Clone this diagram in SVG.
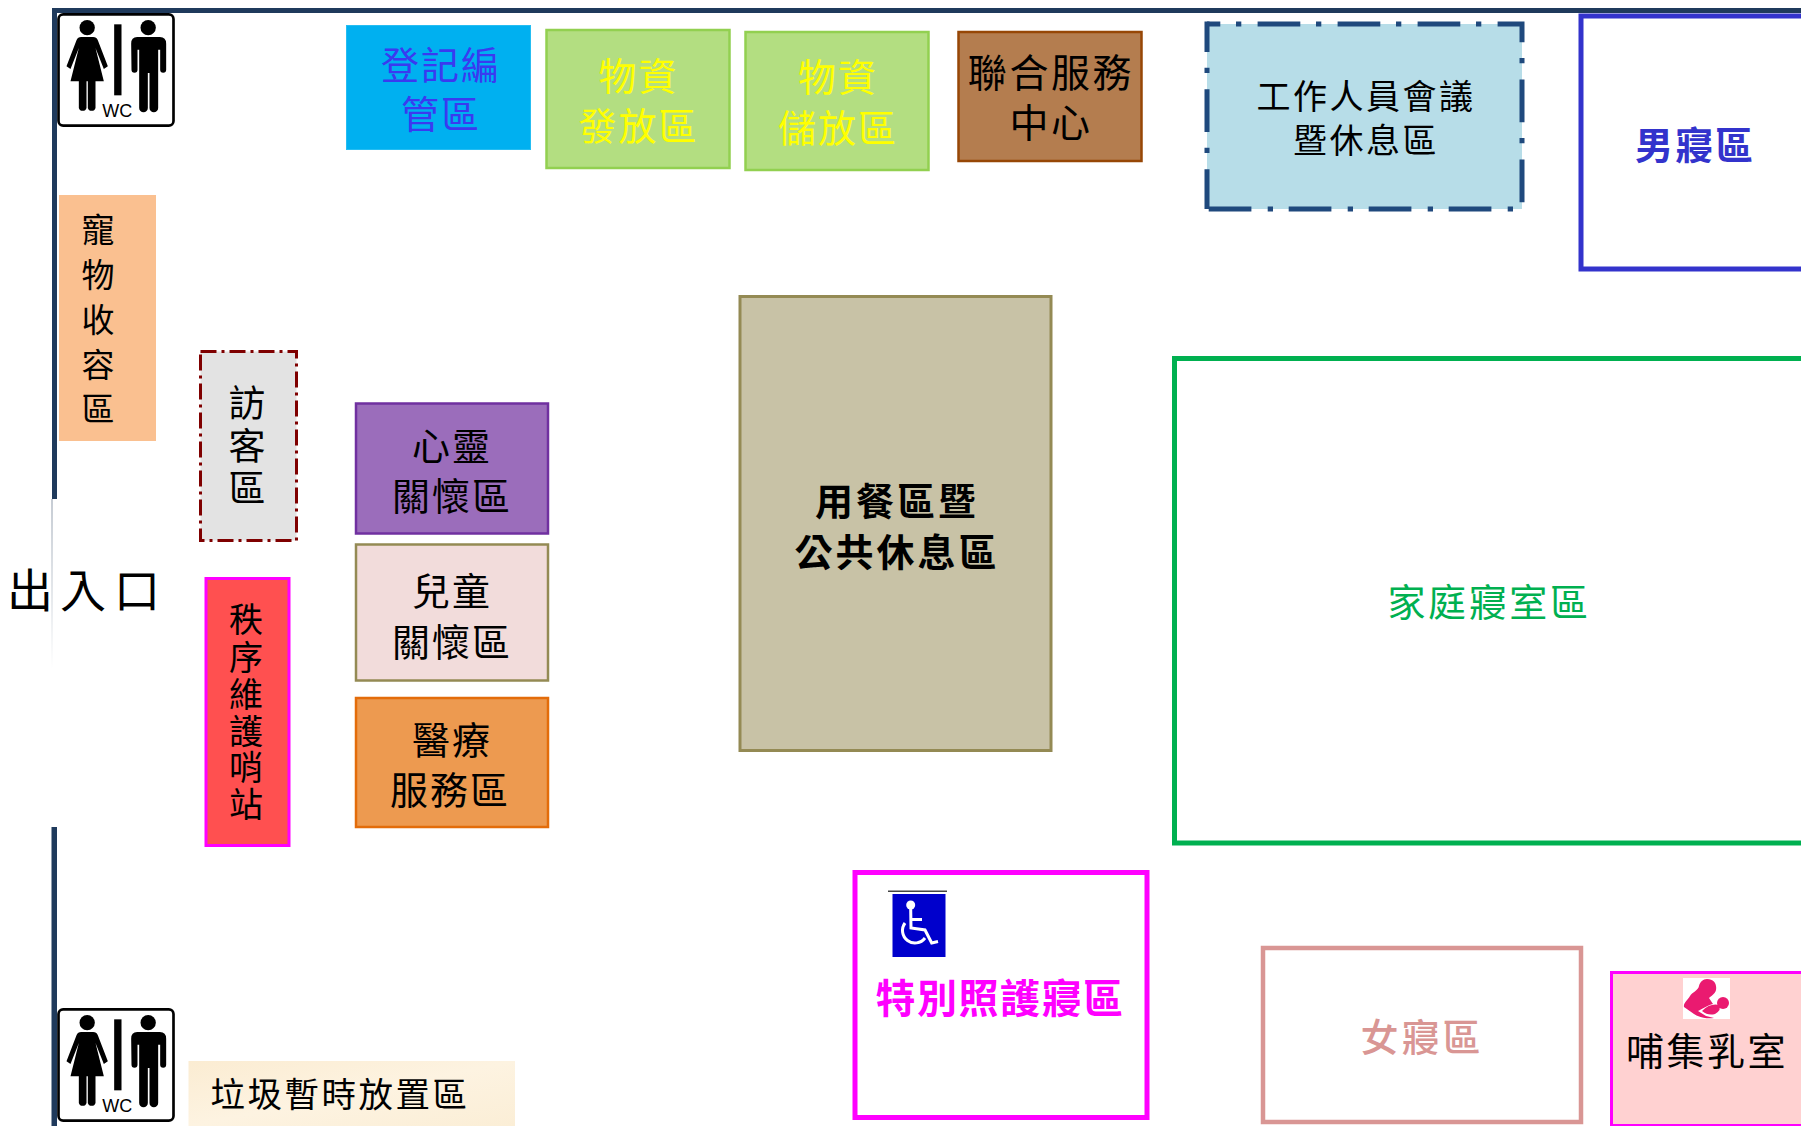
<svg xmlns="http://www.w3.org/2000/svg" width="1801" height="1126" viewBox="0 0 1801 1126">
<style>
text{font-family:"Noto Sans CJK TC","Noto Sans CJK SC",sans-serif;text-anchor:middle;fill:#000}
.s36{font-size:38px;letter-spacing:2px}
.wall{fill:#1f3a5c}
.staffline{fill:none;stroke:#1f497d;stroke-width:5;stroke-dasharray:42.7 15.7 5.3 16.3}
</style>
<defs>
<linearGradient id="paper" x1="0" y1="0" x2="1" y2="1"><stop offset="0" stop-color="#fbecd2"/><stop offset=".5" stop-color="#fdf3e1"/><stop offset="1" stop-color="#fbeed6"/></linearGradient>
<linearGradient id="doorfade" x1="0" y1="0" x2="0" y2="1"><stop offset="0" stop-color="#8d99a9"/><stop offset=".5" stop-color="#c4cbd3"/><stop offset="1" stop-color="#ffffff"/></linearGradient>
<symbol id="wc" viewBox="0 0 353 342" width="118" height="114" overflow="visible">
<rect x="4" y="4" width="345" height="334" rx="14" fill="#fff" stroke="#000" stroke-width="8"/>
<circle cx="90" cy="44" r="23"/>
<path d="M72 72L108 72Q118 72 122 82L152 160L140 168L115 105L140 205L115 205L115 285A12 12 0 0 1 92 285L92 205L88 205L88 285A12 12 0 0 1 65 285L65 205L40 205L65 105L40 168L28 160L58 82Q62 72 72 72Z"/>
<rect x="171" y="34" width="22" height="213"/>
<circle cx="273" cy="44" r="23"/>
<path d="M240 72L308 72Q327 72 327 92L327 170A9 9 0 0 1 309 170L309 110L303 110L303 285A13 13 0 0 1 277 285L277 180L272 180L272 285A13 13 0 0 1 246 285L246 110L241 110L241 170A9 9 0 0 1 223 170L222 92Q222 72 240 72Z"/>
<text x="180" y="312" style="font-family:'Liberation Sans',sans-serif;font-size:54px">WC</text>
</symbol>
</defs>
<rect width="1801" height="1126" fill="#fff"/>
<g id="walls">
<rect class="wall" x="52" y="8" width="1749" height="5"/>
<rect class="wall" x="52" y="8" width="5" height="491"/>
<rect x="51.500" y="499" width="1" height="170" fill="url(#doorfade)"/>
<rect class="wall" x="51.500" y="827" width="5.500" height="299"/>
</g>
<g id="wc-top"><use href="#wc" x="57" y="13"/></g>
<g id="wc-bottom"><use href="#wc" x="57" y="1008"/></g>
<g id="registration"><rect x="346.500" y="25.500" width="184" height="124" fill="#00b0f0" stroke="#25bdf2"/>
<text class="s36" style="fill:#3a3af0"><tspan x="441" y="79">登記編</tspan><tspan x="441" y="128">管區</tspan></text></g>
<g id="supply-distribution"><rect x="546.500" y="30" width="183" height="138" fill="#b3de81" stroke="#92d050" stroke-width="2.500"/>
<text class="s36" style="fill:#ffff00"><tspan x="638.500" y="90">物資</tspan><tspan x="638.500" y="140">發放區</tspan></text></g>
<g id="supply-storage"><rect x="745.500" y="32" width="183" height="138" fill="#b3de81" stroke="#92d050" stroke-width="2.500"/>
<text class="s36" style="fill:#ffff00"><tspan x="838" y="91">物資</tspan><tspan x="838" y="142">儲放區</tspan></text></g>
<g id="joint-service"><rect x="958.500" y="32" width="183" height="129" fill="#b47d4f" stroke="#974706" stroke-width="2.500"/>
<text style="font-size:39px;letter-spacing:2.600px"><tspan x="1051" y="87">聯合服務</tspan><tspan x="1051" y="137">中心</tspan></text></g>
<g id="staff"><rect x="1207" y="24" width="315" height="185" fill="#b7dde8"/>
<path class="staffline" d="M1207 24H1522V209H1207" stroke-dashoffset="29.400"/>
<path class="staffline" d="M1207 21.500V209" stroke-dashoffset="12.200"/>
<text style="font-size:34px;letter-spacing:2.500px"><tspan x="1366" y="109">工作人員會議</tspan><tspan x="1366" y="153">暨休息區</tspan></text></g>
<g id="men"><rect x="1581" y="16" width="400" height="253" fill="#fff" stroke="#3333cc" stroke-width="5"/>
<text style="font-size:38px;letter-spacing:2px;font-weight:700;fill:#3333cc" x="1695" y="159">男寢區</text></g>
<g id="family"><rect x="1174.500" y="358.500" width="800" height="484.500" fill="#fff" stroke="#00b050" stroke-width="5"/>
<text style="font-size:38px;letter-spacing:2.600px;fill:#00b050" x="1489" y="616">家庭寢室區</text></g>
<g id="dining"><rect x="740" y="296.500" width="311" height="454" fill="#c8c2a6" stroke="#948a54" stroke-width="3"/>
<text style="font-size:38px;letter-spacing:3px;font-weight:700"><tspan x="897" y="515">用餐區暨</tspan><tspan x="897" y="566">公共休息區</tspan></text></g>
<g id="pet"><rect x="59" y="195" width="97" height="246" fill="#fac090"/>
<text style="font-size:33px"><tspan x="98" y="242">寵</tspan><tspan x="98" y="287">物</tspan><tspan x="98" y="332">收</tspan><tspan x="98" y="377">容</tspan><tspan x="98" y="421">區</tspan></text></g>
<g id="visitor"><rect x="200.500" y="351.500" width="96" height="189" fill="#e3e3e3" stroke="#7f0000" stroke-width="3" stroke-dasharray="16 5 3 5"/>
<text style="font-size:37px"><tspan x="247" y="417">訪</tspan><tspan x="247" y="460">客</tspan><tspan x="247" y="502">區</tspan></text></g>
<g id="order"><rect x="206" y="578.500" width="83" height="267" fill="#ff5050" stroke="#ff00ff" stroke-width="3"/>
<text style="font-size:34px"><tspan x="246" y="632">秩</tspan><tspan x="246" y="670">序</tspan><tspan x="246" y="707">維</tspan><tspan x="246" y="744">護</tspan><tspan x="246" y="780">哨</tspan><tspan x="246" y="817">站</tspan></text></g>
<g id="spiritual"><rect x="356" y="403.500" width="192" height="130" fill="#9b6dbb" stroke="#7030a0" stroke-width="2.500"/>
<text class="s36"><tspan x="452" y="460">心靈</tspan><tspan x="452" y="510">關懷區</tspan></text></g>
<g id="children"><rect x="356" y="544.500" width="192" height="136" fill="#f2dcdb" stroke="#948a54" stroke-width="2.500"/>
<text class="s36"><tspan x="452" y="605">兒童</tspan><tspan x="452" y="656">關懷區</tspan></text></g>
<g id="medical"><rect x="356" y="698" width="192" height="129" fill="#ed9a50" stroke="#e36c0a" stroke-width="2.500"/>
<text class="s36"><tspan x="452" y="754">醫療</tspan><tspan x="450" y="804">服務區</tspan></text></g>
<g id="entrance"><text style="font-size:46px" x="30 83 137" y="607">出入口</text></g>
<g id="special"><rect x="855" y="872.500" width="292" height="245" fill="#fff" stroke="#ff00ff" stroke-width="5"/>
<g id="wheelchair"><rect x="888" y="890.500" width="59" height="1.500" fill="#444"/><rect x="892.500" y="894" width="53" height="63" fill="#0000cc"/>
<circle cx="910.700" cy="905" r="4.500" fill="#fff"/>
<path d="M910.700 909L911 928L925 930L931.700 943L938 941.500M911 919.500L922 919.500M905 923A12 12 0 1 0 925 938" fill="none" stroke="#fff" stroke-width="3"/></g>
<text style="font-size:40px;letter-spacing:1.500px;font-weight:700;fill:#ff00ff" x="1000" y="1013">特別照護寢區</text></g>
<g id="women"><rect x="1263" y="948" width="318" height="174" fill="#fff" stroke="#d99694" stroke-width="4.500"/>
<text style="font-size:38px;letter-spacing:3px;font-weight:500;fill:#d99694" x="1422" y="1051">女寢區</text></g>
<g id="nursing"><rect x="1611.500" y="972.500" width="300" height="153" fill="#ffd1d1" stroke="#ff00ff" stroke-width="3"/>
<rect x="1683" y="978" width="47" height="41" fill="#fff"/>
<path d="M1707 979C1714 979 1717 984 1716 990C1715 994 1711 996 1709 998L1713 1004C1708 1005 1702 1009 1698 1011L1706 1016L1714 1018C1708 1019 1700 1018 1694 1014L1684 1007C1683 1003 1688 1000 1690 996C1692 992 1698 991 1699 986C1700 982 1703 979 1707 979Z" fill="#ea1a70"/>
<circle cx="1723" cy="1003" r="6" fill="#ea1a70"/>
<path d="M1702 1011Q1710 1003 1719 1005Q1722 1010 1715 1014Q1708 1016 1702 1011Z" fill="#ea1a70"/>
<text style="font-size:38px;letter-spacing:2.500px" x="1707" y="1065">哺集乳室</text></g>
<g id="trash"><rect x="188.500" y="1061" width="326.500" height="65" fill="url(#paper)"/>
<text style="font-size:34.500px;letter-spacing:2.500px" x="340" y="1107">垃圾暫時放置區</text></g>
</svg>
